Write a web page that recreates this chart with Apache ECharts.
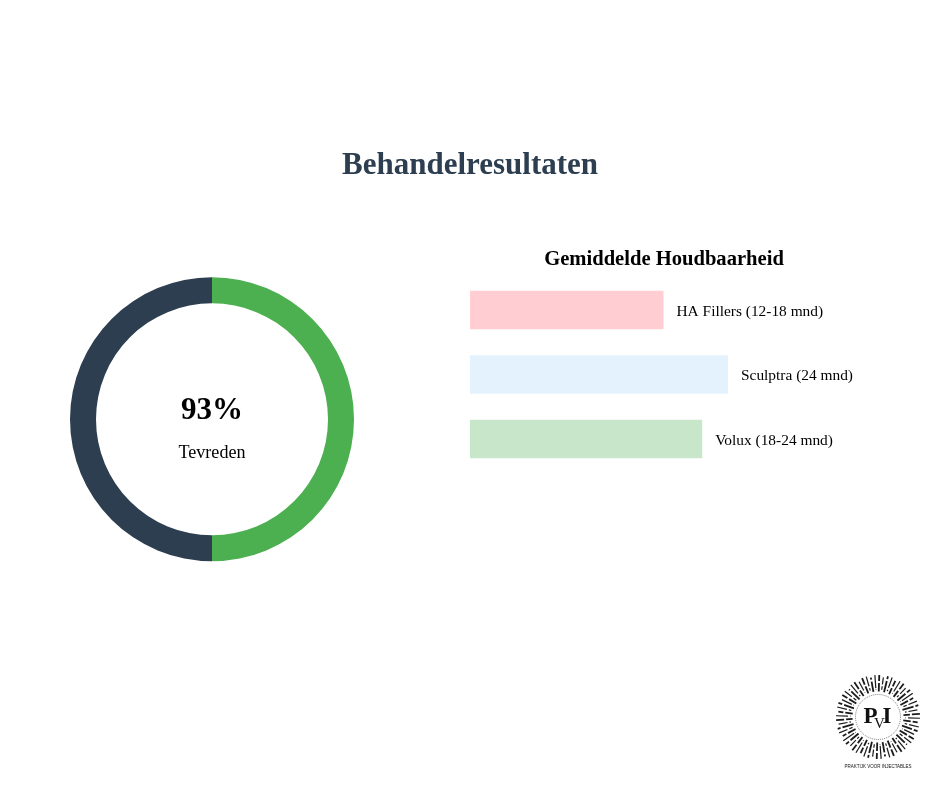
<!DOCTYPE html>
<html>
<head>
<meta charset="utf-8">
<style>html,body{margin:0;padding:0;background:#fff}#chart{width:940px;height:788px}</style>
<script src="https://cdn.jsdelivr.net/npm/echarts@6/dist/echarts.min.js"></script>
</head>
<body>
<div id="chart"></div>
<script>
// Satisfaction ring
const ringNames = ['Tevreden', 'Overig'];
const ringShares = [50, 50];
const ringColors = ['#4caf50', '#2c3e50'];

// Durability bars (relative length, longest = 100)
const products = ['HA Fillers (12-18 mnd)', 'Sculptra (24 mnd)', 'Volux (18-24 mnd)'];
const durability = [75, 100, 90];
const barColors = ['#ffcdd2', '#e3f2fd', '#c8e6c9'];

const serif = '"Liberation Serif", serif';

// Sunburst logo: staggered radial dashes around the monogram
function logoElements(cx, cy) {
  const els = [];
  const spokes = 60;
  const breaks = [29, 34, 31, 37, 28, 35, 32, 38, 30, 33];
  for (let i = 0; i < spokes; i++) {
    const a = (i / spokes) * Math.PI * 2 + 0.03;
    const b = breaks[i % breaks.length];
    const start = i % 2 ? 25.5 : 27.5;
    const end = i % 3 === 1 ? 40 : 42;
    [[start, b - 1], [b + 1, end]].forEach(([r0, r1]) => {
      els.push({
        type: 'line', silent: true,
        shape: { x1: cx + r0 * Math.cos(a), y1: cy + r0 * Math.sin(a), x2: cx + r1 * Math.cos(a), y2: cy + r1 * Math.sin(a) },
        style: { stroke: '#1a1a1a', lineWidth: i % 2 ? 1.8 : 1.2 }
      });
    });
  }
  els.push({ type: 'circle', silent: true, shape: { cx, cy, r: 22.5 }, style: { fill: '#fff', stroke: '#444', lineWidth: 0.7, lineDash: [1, 1] } });
  const glyph = (text, x, y, font) => ({ type: 'text', silent: true, x, y, style: { text, font, fill: '#111', align: 'center', verticalAlign: 'middle' } });
  els.push(glyph('P', cx - 7.5, cy, 'bold 23px ' + serif));
  els.push(glyph('I', cx + 9, cy, 'bold 23px ' + serif));
  els.push(glyph('V', cx + 1.5, cy + 7, '15px ' + serif));
  els.push(glyph('PRAKTIJK VOOR INJECTABLES', cx, cy + 50, '4.5px "Liberation Sans", sans-serif'));
  return els;
}

const chart = echarts.init(document.getElementById('chart'), null, { renderer: 'canvas' });
chart.setOption({
  animation: false,
  backgroundColor: '#fff',
  title: [
    { text: 'Behandelresultaten', left: 465, top: 161, textAlign: 'center', textVerticalAlign: 'middle',
      textStyle: { fontFamily: serif, fontSize: 31, fontWeight: 'bold', color: '#2c3e50' } },
    { text: 'Gemiddelde Houdbaarheid', left: 659, top: 255, textAlign: 'center', textVerticalAlign: 'middle',
      textStyle: { fontFamily: serif, fontSize: 20.6, fontWeight: 'bold', color: '#000' } }
  ],
  grid: { left: 470, top: 277.8, width: 258, height: 193.5, containLabel: false },
  xAxis: { type: 'value', min: 0, max: 100, show: false },
  yAxis: { type: 'category', data: products, inverse: true, show: false },
  series: [
    {
      type: 'pie', radius: [116, 142], center: [212, 419.3], startAngle: 90,
      silent: true, label: { show: false }, labelLine: { show: false },
      data: ringNames.map((name, i) => ({ name, value: ringShares[i], itemStyle: { color: ringColors[i] } }))
    },
    {
      type: 'bar', barWidth: 38.5, silent: true,
      data: durability.map((value, i) => ({ value, itemStyle: { color: barColors[i] } })),
      label: {
        show: true, position: 'right', distance: 13, offset: [0, 1.8],
        formatter: p => p.name,
        fontFamily: serif, fontSize: 15.4, color: '#000'
      }
    }
  ],
  graphic: [
    { type: 'text', silent: true, x: 212, y: 410.5, style: { text: '93%', font: 'bold 31px ' + serif, fill: '#000', align: 'center', verticalAlign: 'middle' } },
    { type: 'text', silent: true, x: 212, y: 453.5, style: { text: 'Tevreden', font: '18.1px ' + serif, fill: '#000', align: 'center', verticalAlign: 'middle' } },
    ...logoElements(878, 717)
  ]
});
</script>
</body>
</html>
